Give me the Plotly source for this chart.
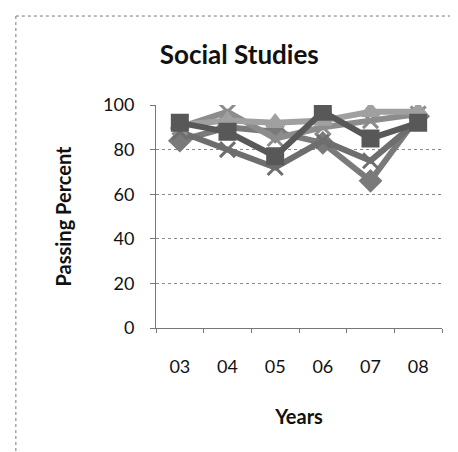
import plotly.graph_objects as go

# 数据
years = ['03', '04', '05', '06', '07', '08']
series_a = [92, 88, 77, 97, 85, 92]   # 方块
series_b = [84, 90, 88, 83, 66, 95]   # 菱形
series_c = [88, 80, 72, 84, 75, 93]   # X
series_d = [90, 97, 85, 90, 93, 96]   # X (上)
series_e = [91, 93, 92, 93, 97, 97]   # 三角
y_ticks = [0, 20, 40, 60, 80, 100]

font_family = 'Lato, "Open Sans", sans-serif'

fig = go.Figure()

styles = [
    (series_b, '#7a7a7a', 'diamond'),
    (series_c, '#6e6e6e', 'x-thin'),
    (series_d, '#8c8c8c', 'x-thin'),
    (series_e, '#a0a0a0', 'triangle-up'),
    (series_a, '#585858', 'square'),
]
for vals, col, sym in styles:
    fig.add_trace(go.Scatter(
        x=years,
        y=vals,
        mode='lines+markers',
        line=dict(color=col, width=6),
        marker=dict(symbol=sym, size=15, color=col,
                    line=dict(color=col, width=3)),
        showlegend=False
    ))

# 外框
fig.add_shape(type='line', xref='paper', yref='paper',
              x0=-0.49, x1=1.1, y0=1.399, y1=1.399,
              line=dict(color='#777', width=1, dash='dot'))
fig.add_shape(type='line', xref='paper', yref='paper',
              x0=-0.49, x1=-0.49, y0=1.399, y1=-0.6,
              line=dict(color='#777', width=1, dash='dot'))

fig.update_layout(
    width=458,
    height=452,
    margin=dict(l=148, r=24, t=97, b=132),
    paper_bgcolor='white',
    plot_bgcolor='white',
    font=dict(family=font_family, color='#111'),
    title=dict(text='<b>Social Studies</b>', x=0.505, xanchor='center',
               y=0.896, yanchor='middle', font=dict(size=26)),
    xaxis=dict(
        type='category',
        range=[-0.5, 5.5],
        showgrid=False,
        showline=True,
        linecolor='#777',
        linewidth=1,
        ticks='outside',
        tickson='boundaries',
        ticklen=4,
        tickcolor='#777',
        ticklabelstandoff=22,
        tickfont=dict(size=18),
        title=dict(text='<b>Years</b>', font=dict(size=20), standoff=34),
    ),
    yaxis=dict(
        range=[0, 100],
        tickvals=y_ticks,
        showgrid=True,
        gridcolor='#8a8a8a',
        gridwidth=1,
        griddash='dot',
        zeroline=False,
        showline=True,
        linecolor='#777',
        linewidth=1,
        ticks='outside',
        ticklen=5,
        tickcolor='#777',
        ticklabelstandoff=12,
        tickfont=dict(size=18),
        title=dict(text='<b>Passing Percent</b>', font=dict(size=20), standoff=26),
    ),
)

fig.write_html('out.html')
